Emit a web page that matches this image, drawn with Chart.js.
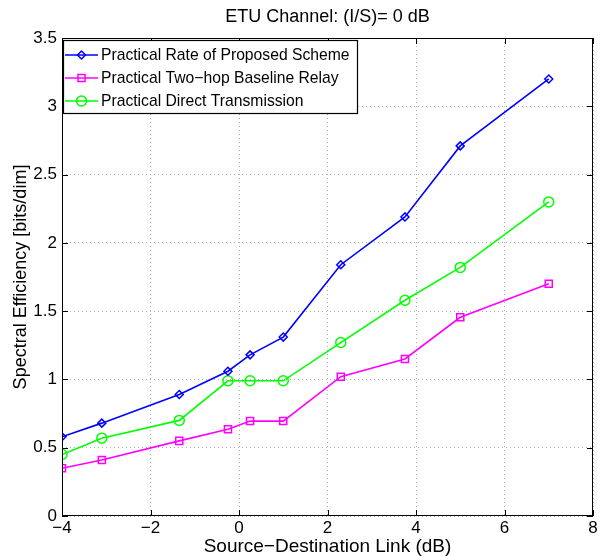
<!DOCTYPE html>
<html><head><meta charset="utf-8">
<script src="https://cdn.jsdelivr.net/npm/chart.js@4/dist/chart.umd.min.js"></script>
<style>html,body{margin:0;padding:0;background:#fff}#wrap{width:602px;height:556px}</style>
</head><body><div id="wrap"><canvas id="c" width="602" height="556"></canvas></div>
<script>
const titleText = "ETU Channel: (I/S)= 0 dB";
const xTitle = "Source\u2212Destination Link (dB)";
const yTitle = "Spectral Efficiency [bits/dim]";
const snr = [-4, -3.1, -1.35, -0.25, 0.25, 1, 2.3, 3.75, 5, 7];
const proposed = [0.58, 0.68, 0.89, 1.06, 1.18, 1.31, 1.84, 2.19, 2.71, 3.20];
const twoHop = [0.35, 0.41, 0.55, 0.635, 0.695, 0.695, 1.02, 1.15, 1.455, 1.70];
const direct = [0.45, 0.57, 0.70, 0.99, 0.99, 0.99, 1.27, 1.58, 1.82, 2.30];
const seriesNames = ["Practical Rate of Proposed Scheme", "Practical Two\u2212hop Baseline Relay", "Practical Direct Transmission"];
const xTicks = [-4, -2, 0, 2, 4, 6, 8];
const yTicks = [0, 0.5, 1, 1.5, 2, 2.5, 3, 3.5];

const FONT = "'Liberation Sans', Arial, Helvetica, sans-serif";
const pts = arr => arr.map((v, i) => ({x: snr[i], y: v}));

const datasets = [
  {label: seriesNames[0], data: pts(proposed), borderColor: '#0000ff', pointStyle: 'rectRot', pointRadius: 4, pointBorderWidth: 1.5, borderWidth: 1.6},
  {label: seriesNames[1], data: pts(twoHop), borderColor: '#ff00ff', pointStyle: 'rect', pointRadius: 5, pointBorderWidth: 1.5, borderWidth: 1.6},
  {label: seriesNames[2], data: pts(direct), borderColor: '#00ff00', pointStyle: 'circle', pointRadius: 5, pointBorderWidth: 1.5, borderWidth: 1.6}
];
datasets.forEach(d => { d.backgroundColor = 'rgba(0,0,0,0)'; d.pointBackgroundColor = 'rgba(0,0,0,0)'; d.pointBorderColor = d.borderColor; d.tension = 0; d.fill = false; });

const fmt = v => String(v).replace('-', '\u2212');

const framePlugin = {
  id: 'frame',
  afterDraw(chart) {
    const ctx = chart.ctx, a = chart.chartArea;
    const xs = chart.scales.x, ys = chart.scales.y;
    ctx.save();
    ctx.strokeStyle = '#000';
    ctx.lineWidth = 1;
    ctx.strokeRect(Math.round(a.left) + 0.5, Math.round(a.top) + 0.5, Math.round(a.right - a.left) - 1, Math.round(a.bottom - a.top) - 1);
    const L = 6;
    ctx.beginPath();
    xTicks.forEach(t => {
      const px = Math.round(xs.getPixelForValue(t)) + 0.5;
      ctx.moveTo(px, a.bottom); ctx.lineTo(px, a.bottom - L);
      ctx.moveTo(px, a.top); ctx.lineTo(px, a.top + L);
    });
    yTicks.forEach(t => {
      const py = Math.round(ys.getPixelForValue(t)) + 0.5;
      ctx.moveTo(a.left, py); ctx.lineTo(a.left + L, py);
      ctx.moveTo(a.right, py); ctx.lineTo(a.right - L, py);
    });
    ctx.stroke();
    // title
    ctx.fillStyle = '#000';
    ctx.font = '18px ' + FONT;
    ctx.textAlign = 'center';
    ctx.textBaseline = 'middle';
    ctx.fillText(titleText, (a.left + a.right) / 2, 17);
    // legend
    const bx = a.left + 1, by = a.top + 2, bw = 294, rowH = 23;
    const bh = rowH * datasets.length + 4;
    ctx.fillStyle = '#fff';
    ctx.fillRect(bx, by, bw, bh);
    ctx.lineWidth = 1.2;
    ctx.strokeStyle = '#000';
    ctx.strokeRect(bx + 0.5, by + 0.5, bw, bh);
    ctx.textAlign = 'left';
    ctx.font = '15.7px ' + FONT;
    datasets.forEach((d, i) => {
      const y = by + 15 + i * rowH;
      ctx.strokeStyle = d.borderColor;
      ctx.lineWidth = 1.6;
      ctx.beginPath(); ctx.moveTo(bx + 2, y); ctx.lineTo(bx + 35, y); ctx.stroke();
      ctx.fillStyle = 'rgba(0,0,0,0)';
      ctx.lineWidth = 1.5;
      Chart.helpers.drawPoint(ctx, {pointStyle: d.pointStyle, radius: d.pointRadius, borderWidth: 1.5, rotation: 0}, bx + 18.5, y);
      ctx.fillStyle = '#000';
      ctx.fillText(d.label, bx + 38, y + 1);
    });
    ctx.restore();
  }
};

new Chart(document.getElementById('c'), {
  type: 'line',
  data: {datasets},
  options: {
    responsive: false,
    animation: false,
    devicePixelRatio: 1,
    layout: {padding: {left: 0, right: 9, top: 38, bottom: 0}},
    plugins: {legend: {display: false}, tooltip: {enabled: false}, title: {display: false}},
    scales: {
      x: {
        type: 'linear', min: -4, max: 8,
        afterFit(s) { s.height = 40; },
        afterBuildTicks(s) { s.ticks = xTicks.map(v => ({value: v})); },
        ticks: {color: '#000', font: {family: FONT, size: 17}, padding: 2, maxRotation: 0, callback: fmt},
        grid: {drawTicks: false, color: '#b0b0b0', lineWidth: 1},
        border: {display: false, dash: [1, 3]},
        title: {display: true, text: xTitle, color: '#000', font: {family: FONT, size: 19, lineHeight: 1}, padding: {top: 0, bottom: 0}}
      },
      y: {
        type: 'linear', min: 0, max: 3.5,
        afterFit(s) { s.width = 62; },
        afterBuildTicks(s) { s.ticks = yTicks.map(v => ({value: v})); },
        ticks: {color: '#000', font: {family: FONT, size: 17}, padding: 5, callback: fmt},
        grid: {drawTicks: false, color: '#b0b0b0', lineWidth: 1},
        border: {display: false, dash: [1, 3]},
        title: {display: true, text: yTitle, color: '#000', font: {family: FONT, size: 18, lineHeight: 1}, padding: {top: 12, bottom: 0}}
      }
    }
  },
  plugins: [framePlugin]
});
</script></body></html>
